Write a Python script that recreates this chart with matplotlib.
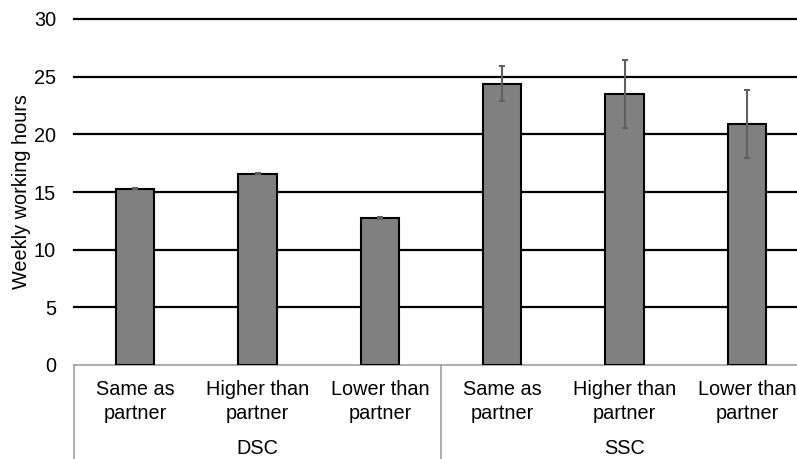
import numpy as np
import matplotlib.pyplot as plt
from matplotlib.transforms import blended_transform_factory

plt.rcParams['font.family'] = ['Liberation Sans', 'DejaVu Sans']

# data
categories = ['Same as\npartner', 'Higher than\npartner', 'Lower than\npartner',
              'Same as\npartner', 'Higher than\npartner', 'Lower than\npartner']
groups = ['DSC', 'SSC']
hours = [15.3, 16.6, 12.75, 24.4, 23.5, 20.9]
errors = [0.05, 0.05, 0.05, 1.5, 2.95, 2.97]
yticks = [0, 5, 10, 15, 20, 25, 30]

W, H = 797, 459
fs = 14.3
fig = plt.figure(figsize=(W / 100, H / 100), dpi=100)
left, right, top, bottom = 74, 797, 19, 365
ax = fig.add_axes([left / W, 1 - bottom / H, (right - left) / W, (bottom - top) / H])

x = np.arange(len(categories))
ax.bar(x, hours, width=0.315, color='#808080', edgecolor='black', linewidth=1.5, zorder=3)
ax.errorbar(x, hours, yerr=errors, fmt='none', ecolor='#606060', elinewidth=1.5,
            capsize=2, capthick=1.5, zorder=4)

ax.set_ylim(0, 30)
ax.set_xlim(-0.5, 5.5 - 11 / 122.3)
for t in yticks[1:]:
    ax.axhline(t, color='black', linewidth=1.6, zorder=1, clip_on=False)
ax.axhline(0, color='#a0a0a0', linewidth=1.2, zorder=2, clip_on=False)

for s in ax.spines.values():
    s.set_visible(False)
ax.tick_params(length=0)
ax.set_yticks(yticks)
ax.set_yticklabels([str(t) for t in yticks], fontsize=fs)
ax.tick_params(axis='y', pad=13)
ax.set_xticks(x)
ax.set_xticklabels(categories, fontsize=fs, linespacing=1.3)
ax.tick_params(axis='x', pad=11)
ax.set_ylabel('Weekly working hours', fontsize=fs, labelpad=2)

trans = blended_transform_factory(ax.transData, ax.transAxes)
for xs in [-0.5, 2.5]:
    ax.plot([xs, xs], [0, -0.3], color='#a0a0a0', linewidth=1.2, transform=trans, clip_on=False)
for i, g in enumerate(groups):
    ax.text(1 + 3 * i, -83 / 346, g, transform=trans, ha='center', va='center', fontsize=fs)

fig.savefig('out.png', dpi=100)
